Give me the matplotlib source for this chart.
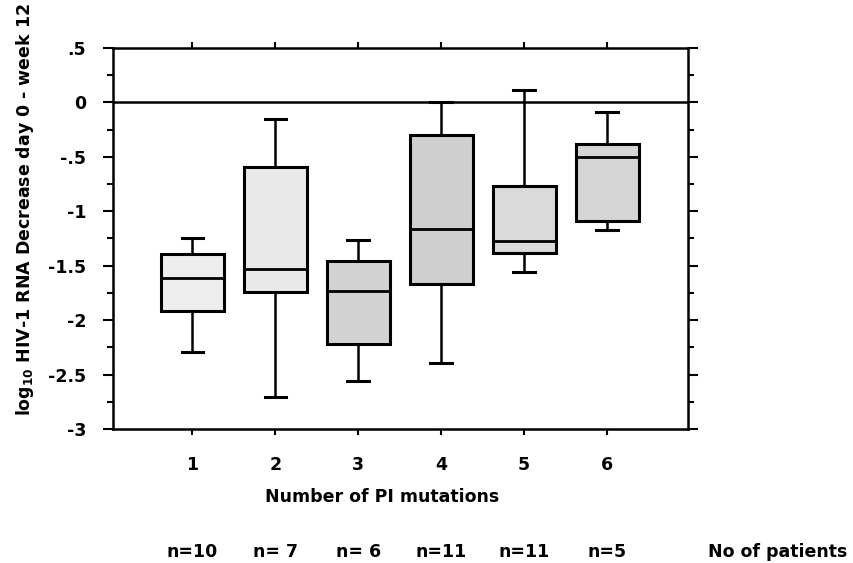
import matplotlib
matplotlib.use('Agg')
import matplotlib.pyplot as plt
from matplotlib.ticker import MultipleLocator, FixedLocator

plt.rcParams['font.family'] = ['DejaVu Sans']
plt.rcParams['font.weight'] = 'bold'
plt.rcParams['mathtext.fontset'] = 'dejavusans'

# box summaries
mutations = [1, 2, 3, 4, 5, 6]
whisker_lo = [-2.29, -2.71, -2.56, -2.39, -1.56, -1.17]
q1 = [-1.92, -1.74, -2.22, -1.67, -1.38, -1.09]
medians = [-1.61, -1.53, -1.73, -1.16, -1.27, -0.505]
q3 = [-1.39, -0.59, -1.46, -0.30, -0.77, -0.38]
whisker_hi = [-1.245, -0.15, -1.265, 0.0, 0.115, -0.085]
n_patients = ['n=10', 'n= 7', 'n= 6', 'n=11', 'n=11', 'n=5']

ytick_vals = [0.5, 0, -0.5, -1, -1.5, -2, -2.5, -3]
ytick_labels = ['.5', '0', '-.5', '-1', '-1.5', '-2', '-2.5', '-3']

fills = ['#eeeeee', '#e9e9e9', '#d3d3d3', '#cfcfcf', '#dadada', '#d5d5d5']

fig = plt.figure(figsize=(8.54, 5.63), dpi=100)
ax = fig.add_axes([0.132, 0.238, 0.674, 0.677])

stats = []
for i in range(len(mutations)):
    stats.append({'whislo': whisker_lo[i], 'q1': q1[i], 'med': medians[i],
                  'q3': q3[i], 'whishi': whisker_hi[i], 'fliers': []})

bp = ax.bxp(stats, positions=mutations, widths=0.76, capwidths=0.26,
            patch_artist=True, showfliers=False,
            boxprops=dict(linewidth=2.2, edgecolor='black'),
            medianprops=dict(color='black', linewidth=2.0),
            whiskerprops=dict(color='black', linewidth=1.8),
            capprops=dict(color='black', linewidth=2.2))
for patch, c in zip(bp['boxes'], fills):
    patch.set_facecolor(c)

ax.axhline(0, color='black', linewidth=1.8, zorder=0)

ax.set_xlim(0.04, 6.98)
ax.set_ylim(-3, 0.5)

ax.xaxis.set_major_locator(FixedLocator(mutations))
ax.set_xticklabels([str(m) for m in mutations])
ax.set_yticks(ytick_vals)
ax.set_yticklabels(ytick_labels)
ax.yaxis.set_minor_locator(MultipleLocator(0.25))

ax.tick_params(axis='y', which='major', direction='out', length=7, width=1.5,
               left=True, right=True, labelsize=12.5, pad=12)
ax.tick_params(axis='y', which='minor', direction='out', length=4, width=1.5,
               left=True, right=True)
ax.tick_params(axis='x', which='major', direction='out', length=4.5, width=1.5,
               top=True, bottom=True, labelsize=12.5, pad=15)
for s in ax.spines.values():
    s.set_linewidth(1.8)

ax.set_xlabel('Number of PI mutations', fontsize=12.5, fontweight='bold')
ax.xaxis.set_label_coords(0.468, -0.155)
ax.set_ylabel(r'log$_{\mathbf{10}}$ HIV-1 RNA Decrease day 0 - week 12',
              fontsize=12.5, fontweight='bold')
ax.yaxis.set_label_coords(-0.134, 0.575)

trans = ax.get_xaxis_transform()
for m, t in zip(mutations, n_patients):
    ax.text(m, -0.322, t, transform=trans, ha='center', va='center',
            fontsize=12.5, fontweight='bold', clip_on=False)
ax.text(8.06, -0.322, 'No of patients', transform=trans, ha='center',
        va='center', fontsize=12.5, fontweight='bold', clip_on=False)

fig.savefig('out.png', dpi=100)
